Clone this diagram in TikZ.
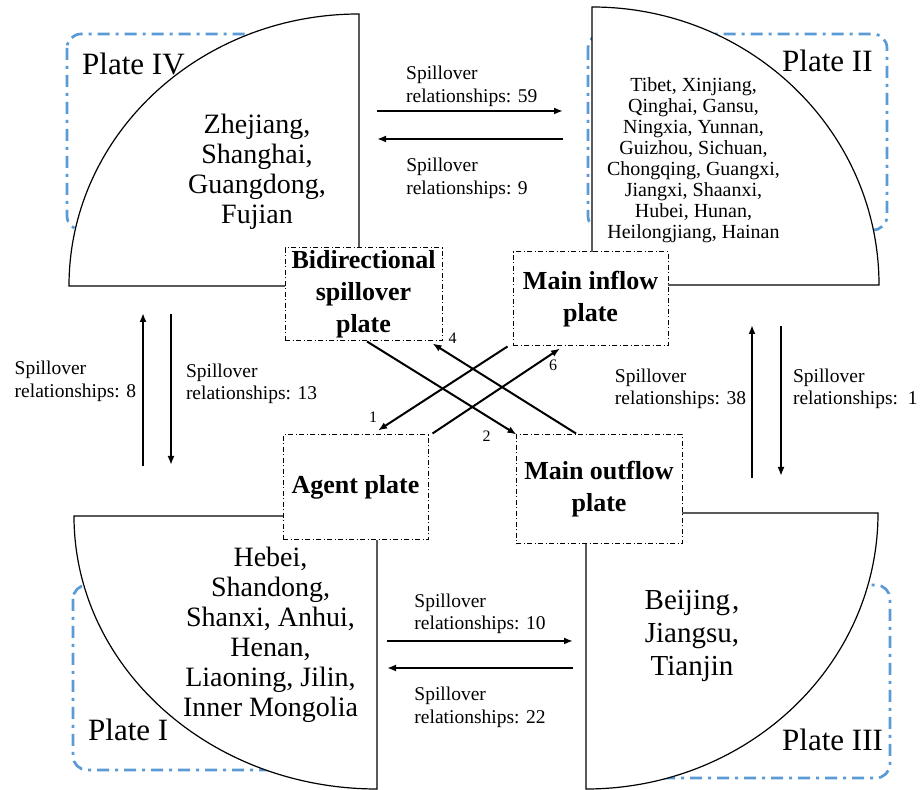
\documentclass[tikz,border=0pt]{standalone}
\usepackage{fontspec}
\setmainfont{Liberation Serif}
\usetikzlibrary{arrows.meta,calc}
\definecolor{zoneblue}{RGB}{91,155,213}

\begin{document}
\begin{tikzpicture}[x=1pt, y=1pt,
  zone/.style={draw=zoneblue, line width=2.7pt, rounded corners=14pt,
               dash pattern=on 12pt off 6pt on 3pt off 6pt},
  sector/.style={draw=black, line width=1.2pt, fill=white},
  box/.style={draw=black, line width=1pt, fill=white, inner sep=0pt,
              dash pattern=on 5pt off 2.5pt on 1pt off 2.5pt,
              align=center, font=\fontsize{26}{32}\selectfont\bfseries},
  prov/.style={align=center, inner sep=0pt, font=\fontsize{28}{30}\selectfont},
  platename/.style={anchor=base west, inner sep=0pt, font=\fontsize{31}{31}\selectfont},
  lbl/.style={align=left, inner sep=0pt, font=\fontsize{19.5}{22.5}\selectfont},
  num/.style={inner sep=0pt, font=\fontsize{16}{16}\selectfont},
  arr/.style={-{Latex[length=9pt,width=7pt]}, line width=2pt}
]
\useasboundingbox[fill=white] (0,0) rectangle (920,789);

\draw[zone] (67,755) rectangle (300,559);
\draw[zone] (588,755) rectangle (887,559);
\draw[zone] (73,204) rectangle (300,19);
\draw[zone] (620,204) rectangle (890,11);

\draw[sector] (359,775) -- (359,503) -- (69,503)
  arc[start angle=180, end angle=90, x radius=290, y radius=272] -- cycle;
\draw[sector] (592,504) -- (592,782)
  arc[start angle=90, end angle=0, x radius=287, y radius=278] -- cycle;
\draw[sector] (377,273) -- (74,273)
  arc[start angle=180, end angle=270, x radius=303, y radius=273] -- cycle;
\draw[sector] (586,276) -- (878,276)
  arc[start angle=0, end angle=-90, x radius=292, y radius=276] -- cycle;

\node[platename] (p4) at (82,714) {Plate IV};
\node[platename] (p2) at (782,717) {Plate II};
\node[platename] (p1) at (88,48) {Plate I};
\node[platename] (p3) at (782,38) {Plate III};

\node[prov] (east) at (257,617) {Zhejiang,\\Shanghai,\\Guangdong,\\Fujian};
\node[prov, font=\fontsize{20}{21}\selectfont] (west) at (693.5,628.5)
  {Tibet, Xinjiang,\\Qinghai, Gansu,\\Ningxia, Yunnan,\\Guizhou, Sichuan,\\Chongqing, Guangxi,\\Jiangxi, Shaanxi,\\Hubei, Hunan,\\Heilongjiang, Hainan};
\node[prov] (north) at (270.5,154)
  {Hebei,\\Shandong,\\Shanxi, Anhui,\\Henan,\\Liaoning, Jilin,\\Inner Mongolia};
\node[prov, font=\fontsize{29}{33}\selectfont] (core) at (692,153.5) {Beijing\kern2pt,\\Jiangsu,\\Tianjin};

\node[box, minimum width=157, minimum height=93] (bidir) at (363.5,494.5) {Bidirectional\\spillover\\plate};
\node[box, minimum width=155, minimum height=94] (inflow) at (590.5,490) {Main inflow\\plate};
\node[box, minimum width=145, minimum height=105] (agent) at (355.5,301.5) {Agent plate};
\node[box, minimum width=166, minimum height=109] (outflow) at (599,299.5) {Main outflow\\plate};

\coordinate (ta) at (377,678);
\coordinate (tb) at (563,678);
\coordinate (tc) at (563,650);
\coordinate (td) at (377,650);
\coordinate (ba) at (387,148);
\coordinate (bb) at (573,148);
\coordinate (bc) at (573,121);
\coordinate (bd) at (387,121);
\coordinate (la) at (143,323);
\coordinate (lb) at (143,476);
\coordinate (lc) at (171,475);
\coordinate (ld) at (171,324);
\coordinate (ra) at (752,311);
\coordinate (rb) at (752,464);
\coordinate (rc) at (781,463);
\coordinate (rd) at (781,313);

\draw[arr] (ta) -- (tb) node[lbl, midway, xshift=1.7, yshift=24.5] (l59) {Spillover\\relationships: 59};
\draw[arr] (tc) -- (td) node[lbl, midway, xshift=-3, yshift=-39.5] (l9) {Spillover\\relationships: 9};
\draw[arr] (ba) -- (bb) node[lbl, midway, yshift=27] (l10) {Spillover\\relationships: 10};
\draw[arr] (bc) -- (bd) node[lbl, midway, yshift=-39.5] (l22) {Spillover\\relationships: 22};
\draw[arr] (la) -- (lb) node[lbl, midway, anchor=east, xshift=-6, yshift=8] (l8) {Spillover\\relationships: 8};
\draw[arr] (lc) -- (ld) node[lbl, midway, anchor=west, xshift=14, yshift=5.5] (l13) {Spillover\\relationships: 13};
\draw[arr] (ra) -- (rb) node[lbl, midway, anchor=east, xshift=-5, yshift=12.5] (l38) {Spillover\\relationships: 38};
\draw[arr] (rc) -- (rd) node[lbl, midway, anchor=west, xshift=11, yshift=12] (l1) {Spillover\\relationships:\ \ 1};

\draw[arr] ([xshift=-5]inflow.south west) -- ([shift={(22.5,4)}]agent.north)
  node[num, at end, xshift=-5, yshift=13] (n1) {1};
\draw[arr] ([xshift=3.5]bidir.south) -- ([xshift=1]outflow.north west)
  node[num, at end, xshift=-30, yshift=-2] (n2) {2};
\draw[arr] ([shift={(-23,1)}]outflow.north) -- ([shift={(-10,-2)}]bidir.south east)
  node[num, at end, xshift=20, yshift=5] (n4) {4};
\draw[arr] ([shift={(4,1)}]agent.north east) -- ([shift={(-30.5,-2)}]inflow.south)
  node[num, at end, xshift=-7, yshift=-17] (n6) {6};
\end{tikzpicture}
\end{document}
